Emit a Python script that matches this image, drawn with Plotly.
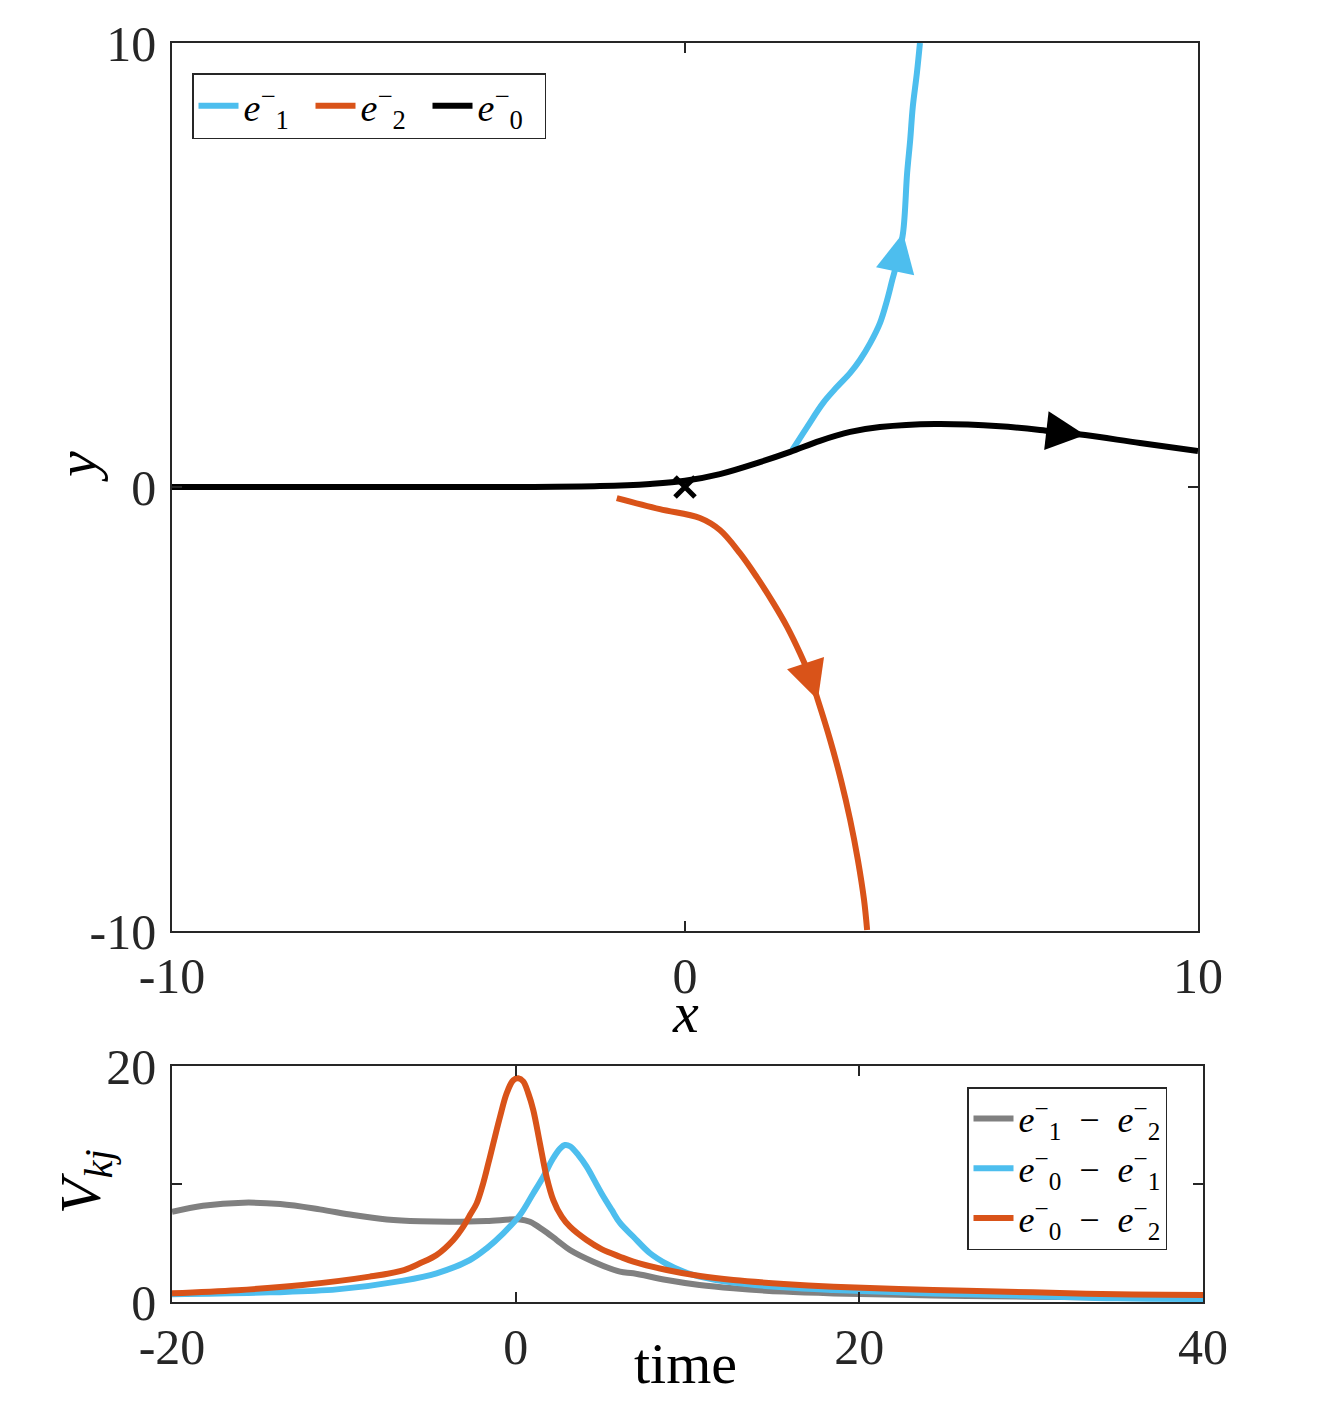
import plotly.graph_objects as go

# ---------------- data: top panel (phase plane) ----------------
e1_x = [2.09, 2.38, 2.69, 2.96, 3.22, 3.41, 3.61, 3.80, 3.94, 4.04, 4.13, 4.25, 4.33, 4.39, 4.44, 4.52, 4.58]
e1_y = [0.83, 1.35, 1.89, 2.25, 2.57, 2.86, 3.24, 3.69, 4.21, 4.66, 5.05, 5.72, 7.07, 7.82, 8.56, 9.32, 10.0]

e2_x = [-1.33, -0.49, 0.29, 0.68, 1.07, 1.40, 1.72, 1.99, 2.24, 2.44, 2.59, 2.83, 3.04, 3.22, 3.37, 3.49, 3.55]
e2_y = [-0.25, -0.50, -0.70, -0.97, -1.49, -2.03, -2.61, -3.15, -3.74, -4.28, -4.80, -5.70, -6.60, -7.50, -8.40, -9.30, -9.98]

e0_x = [-10, -5.56, -3.02, -1.66, -0.68, 0, 0.68, 1.46, 2.05, 2.63, 3.22, 3.80, 4.87, 6.14, 7.12, 7.80, 8.87, 10]
e0_y = [0, 0, 0, 0.02, 0.07, 0.14, 0.29, 0.56, 0.79, 1.04, 1.24, 1.35, 1.42, 1.37, 1.26, 1.17, 0.99, 0.81]

eq_x = [0]
eq_y = [0]

# index of the point of each curve where a direction arrow sits
arrow_idx = {"e1": 11, "e2": 10, "e0": 15}

# ---------------- data: bottom panel (time series) ----------------
t_12 = [-20, -18.2, -15.85, -13.7, -11.4, -9.45, -7.5, -5.57, -3.63, -1.69, 0.25, 0.83, 1.6, 2.39, 3.16,
        4.52, 6.07, 6.85, 8.79, 10.7, 12.67, 15.6, 18.5, 24.3, 30.1, 35, 40]
v_12 = [7.65, 8.16, 8.42, 8.3, 7.85, 7.37, 7.0, 6.84, 6.8, 6.86, 7.0, 6.8, 6.1, 5.25, 4.41,
        3.42, 2.57, 2.43, 1.86, 1.44, 1.16, 0.88, 0.73, 0.56, 0.45, 0.37, 0.33]

t_01 = [-20, -14.3, -10.4, -6.54, -4.6, -2.66, -1.69, -0.72, 0.25, 1.02, 1.6, 2.19, 2.58, 2.87, 3.16,
        3.65, 4.13, 4.62, 5.0, 5.59, 6.07, 6.85, 7.82, 8.79, 9.76, 10.7, 12.67, 15.6, 18.5, 24.3, 30.1, 35, 40]
v_01 = [0.66, 0.82, 1.07, 1.81, 2.43, 3.56, 4.55, 5.82, 7.37, 9.2, 10.6, 12.2, 13.0, 13.3, 13.2,
        12.45, 11.47, 10.2, 9.2, 7.8, 6.7, 5.53, 4.13, 3.22, 2.57, 2.15, 1.64, 1.24, 1.02, 0.73, 0.51, 0.31, 0.25]

t_02 = [-20, -16.2, -12.4, -8.5, -6.5, -5.57, -4.6, -3.63, -3.05, -2.66, -2.27, -1.89, -1.59, -1.30, -0.91,
        -0.52, -0.14, 0.15, 0.44, 0.73, 1.02, 1.41, 1.80, 2.19, 2.68, 3.16, 4.13, 5.0, 6.07, 6.85, 8.79,
        10.73, 12.67, 15.6, 18.5, 24.3, 30.1, 35, 40]
v_02 = [0.74, 1.0, 1.44, 2.15, 2.71, 3.28, 3.98, 5.25, 6.38, 7.37, 8.36, 10.06, 11.75, 13.45, 15.7,
        17.7, 18.8, 18.96, 18.7, 17.7, 16.3, 13.45, 10.6, 8.64, 7.23, 6.38, 5.25, 4.48, 3.84, 3.42, 2.71,
        2.2, 1.86, 1.53, 1.3, 1.02, 0.82, 0.65, 0.6]

top_ticks = [-10, 0, 10]
top_ticktext = ["-10", "0", "10"]
bot_xticks = [-20, 0, 20, 40]
bot_xticktext = ["-20", "0", "20", "40"]
bot_yticks = [0, 10, 20]
bot_yticktext = ["0", " ", "20"]

# ---------------- style ----------------
BLUE = "#4DBEEE"
ORANGE = "#D95319"
BLACK = "#000000"
GRAY = "#808080"
FONT = "Liberation Serif"
AX = "#262626"
W, H = 1324, 1418
LW = 6

fig = go.Figure()

def line(col):
    return dict(color=col, width=LW, shape="spline", smoothing=1.0)

fig.add_trace(go.Scatter(x=e1_x, y=e1_y, mode="lines", name="<i>e</i><sup>−</sup><sub>1</sub>",
                         line=line(BLUE), xaxis="x", yaxis="y", legend="legend"))
fig.add_trace(go.Scatter(x=e2_x, y=e2_y, mode="lines", name="<i>e</i><sup>−</sup><sub>2</sub>",
                         line=line(ORANGE), xaxis="x", yaxis="y", legend="legend"))
fig.add_trace(go.Scatter(x=e0_x, y=e0_y, mode="lines", name="<i>e</i><sup>−</sup><sub>0</sub>",
                         line=line(BLACK), xaxis="x", yaxis="y", legend="legend"))
fig.add_trace(go.Scatter(x=eq_x, y=eq_y, mode="markers", showlegend=False,
                         marker=dict(symbol="x-thin", size=20, line=dict(color=BLACK, width=5)),
                         xaxis="x", yaxis="y"))

fig.add_trace(go.Scatter(x=t_12, y=v_12, mode="lines",
                         name="<i>e</i><sup>−</sup><sub>1</sub>  −  <i>e</i><sup>−</sup><sub>2</sub>",
                         line=line(GRAY), xaxis="x2", yaxis="y2", legend="legend2"))
fig.add_trace(go.Scatter(x=t_01, y=v_01, mode="lines",
                         name="<i>e</i><sup>−</sup><sub>0</sub>  −  <i>e</i><sup>−</sup><sub>1</sub>",
                         line=line(BLUE), xaxis="x2", yaxis="y2", legend="legend2"))
fig.add_trace(go.Scatter(x=t_02, y=v_02, mode="lines",
                         name="<i>e</i><sup>−</sup><sub>0</sub>  −  <i>e</i><sup>−</sup><sub>2</sub>",
                         line=line(ORANGE), xaxis="x2", yaxis="y2", legend="legend2"))

# direction arrows, placed on curve points
annotations = []
for key, xs, ys, col in [("e1", e1_x, e1_y, BLUE), ("e2", e2_x, e2_y, ORANGE), ("e0", e0_x, e0_y, BLACK)]:
    i = arrow_idx[key]
    annotations.append(dict(x=xs[i], y=ys[i], ax=xs[i - 1], ay=ys[i - 1],
                            xref="x", yref="y", axref="x", ayref="y",
                            text="", showarrow=True, arrowhead=2, arrowsize=1.3,
                            arrowwidth=LW, arrowcolor=col, standoff=0))

def px_x(p):
    return p / W

def px_y(p):
    return 1 - p / H

TITLE_FONT = dict(family=FONT, size=58, color="#000")
annotations += [
    dict(text="<i>x</i>", x=px_x(685), y=px_y(1012), xref="paper", yref="paper",
         showarrow=False, font=TITLE_FONT, xanchor="center", yanchor="middle"),
    dict(text="<i>y</i>", x=px_x(76), y=px_y(467), xref="paper", yref="paper", textangle=-90,
         showarrow=False, font=TITLE_FONT, xanchor="center", yanchor="middle"),
    dict(text="time", x=px_x(685), y=px_y(1363), xref="paper", yref="paper",
         showarrow=False, font=TITLE_FONT, xanchor="center", yanchor="middle"),
    dict(text="<i>V</i><sub><i>kj</i></sub>", x=px_x(84), y=px_y(1182), xref="paper", yref="paper", textangle=-90,
         showarrow=False, font=TITLE_FONT, xanchor="center", yanchor="middle"),
]

axis_common = dict(showgrid=False, zeroline=False, showline=True, mirror="allticks", automargin=False,
                   linecolor=AX, linewidth=1.5, ticks="inside", ticklen=10, tickwidth=1.5,
                   tickcolor=AX, tickfont=dict(family=FONT, size=50, color="#262626"))

fig.update_layout(
    width=W, height=H,
    margin=dict(l=0, r=0, t=0, b=0, pad=0, autoexpand=False),
    paper_bgcolor="white", plot_bgcolor="white",
    font=dict(family=FONT, color="#000"),
    xaxis=dict(domain=[px_x(172), px_x(1198)], range=[-10, 10], tickvals=top_ticks, ticktext=top_ticktext,
               anchor="y", ticklabelstandoff=0, **axis_common),
    yaxis=dict(domain=[px_y(931), px_y(43)], range=[-10, 10], tickvals=top_ticks, ticktext=top_ticktext,
               anchor="x", ticklabelstandoff=4, **axis_common),
    xaxis2=dict(domain=[px_x(172), px_x(1203)], range=[-20, 40], tickvals=bot_xticks, ticktext=bot_xticktext,
                anchor="y2", ticklabelstandoff=0, **axis_common),
    yaxis2=dict(domain=[px_y(1302), px_y(1066)], range=[0, 20], tickvals=bot_yticks, ticktext=bot_yticktext,
                anchor="x2", ticklabelstandoff=4, **axis_common),
    legend=dict(x=px_x(192), y=px_y(73), xanchor="left", yanchor="top", orientation="h",
                bgcolor="white", bordercolor="#262626", borderwidth=1.5,
                font=dict(family=FONT, size=38, color="#000"), itemwidth=40,
                entrywidth=62, entrywidthmode="pixels", tracegroupgap=0),
    legend2=dict(x=px_x(967), y=px_y(1087), xanchor="left", yanchor="top", orientation="v",
                 bgcolor="white", bordercolor="#262626", borderwidth=1.5,
                 font=dict(family=FONT, size=36, color="#000"), itemwidth=40, tracegroupgap=0),
    annotations=annotations,
)

fig.write_html("out.html")
